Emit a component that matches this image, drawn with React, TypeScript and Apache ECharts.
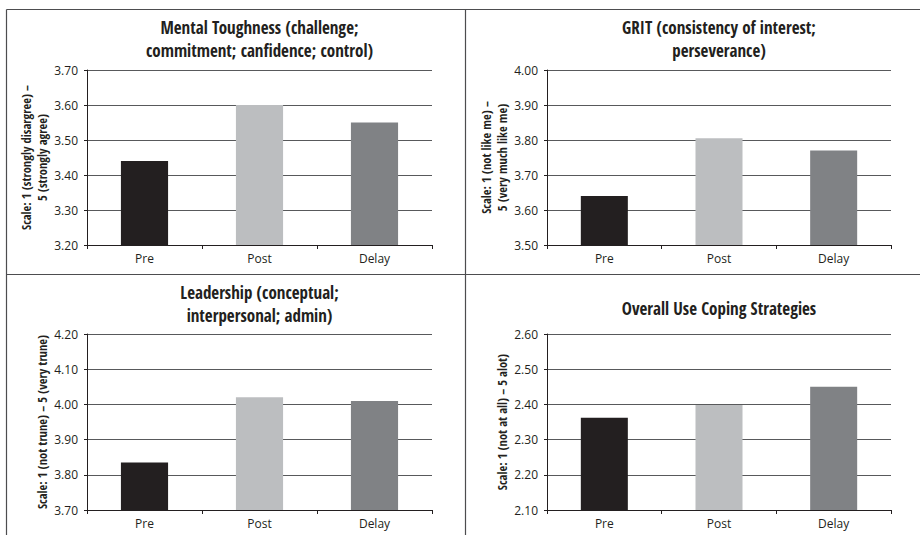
import React, { useEffect, useRef } from "react";
import * as echarts from "echarts";

const categories = ["Pre", "Post", "Delay"];
const barColors = ["#231f20", "#bcbec0", "#808285"];

const titles = [
  "Mental Toughness (challenge;\ncommitment; canfidence; control)",
  "GRIT (consistency of interest;\nperseverance)",
  "Leadership (conceptual;\ninterpersonal; admin)",
  "Overall Use Coping Strategies",
];
const axisNames = [
  "Scale: 1 (strongly disargree) –\n5 (strongly agree)",
  "Scale: 1 (not like me) –\n5 (very much like me)",
  "Scale: 1 (not trune) – 5 (very trune)",
  "Scale: 1 (not at all) – 5 alot)",
];
const mentalToughness = [3.44, 3.6, 3.55];
const grit = [3.64, 3.805, 3.77];
const leadership = [3.835, 4.02, 4.01];
const coping = [2.362, 2.398, 2.45];
const seriesValues = [mentalToughness, grit, leadership, coping];
const yMins = [3.2, 3.5, 3.7, 2.1];
const yMaxs = [3.7, 4.0, 4.2, 2.6];
const yInterval = 0.1;

const FONT = "'Open Sans Condensed', 'Roboto Condensed', sans-serif";
const FONT_REG = "'Open Sans', 'Roboto Condensed', sans-serif";

export default function App() {
  const ref = useRef<HTMLDivElement>(null);
  useEffect(() => {
    if (!ref.current) return;
    const chart = echarts.init(ref.current, null, { renderer: "svg" });
    const grids = [
      { left: 87, top: 70, width: 345, height: 175, outerBoundsMode: "none" },
      { left: 547, top: 70, width: 344, height: 175, outerBoundsMode: "none" },
      { left: 87, top: 334, width: 345, height: 176, outerBoundsMode: "none" },
      { left: 547, top: 334, width: 344, height: 176, outerBoundsMode: "none" },
    ];
    const titleY = [[27, 50], [27, 50], [292, 315], [308]];
    const border = { stroke: "#4d4d4f", lineWidth: 1.2 };
    const graphic: any[] = [
      { type: "line", shape: { x1: 6.5, y1: 9.5, x2: 920, y2: 9.5 }, style: border },
      { type: "line", shape: { x1: 6.5, y1: 9.5, x2: 6.5, y2: 535 }, style: border },
      { type: "line", shape: { x1: 465.5, y1: 9.5, x2: 465.5, y2: 535 }, style: border },
      { type: "line", shape: { x1: 6.5, y1: 274.5, x2: 920, y2: 274.5 }, style: border },
    ];
    titles.forEach((t, i) => {
      const lines = t.split("\n");
      const cx = grids[i].left + grids[i].width / 2;
      lines.forEach((ln, j) => {
        graphic.push({
          type: "text",
          x: cx,
          y: titleY[i][j],
          style: {
            text: ln,
            fill: "#231f20",
            font: `bold 17px ${FONT}`,
            textAlign: "center",
            textVerticalAlign: "middle",
          },
        });
      });
    });
    chart.setOption({
      animation: false,
      grid: grids,
      graphic,
      xAxis: grids.map((_, i) => ({
        type: "category",
        gridIndex: i,
        data: categories,
        axisLine: { show: true, lineStyle: { color: "#231f20", width: 1 } },
        axisTick: { show: true, length: 4, lineStyle: { color: "#231f20" } },
        axisLabel: {
          color: "#231f20",
          fontSize: 12,
          fontStyle: "condensed",
          fontWeight: "normal",
          fontFamily: FONT_REG,
          margin: 7,
        },
        splitLine: { show: false },
      })),
      yAxis: grids.map((_, i) => ({
        type: "value",
        gridIndex: i,
        min: yMins[i],
        max: yMaxs[i],
        interval: yInterval,
        name: axisNames[i],
        nameLocation: "middle",
        nameRotate: 90,
        nameGap: 37,
        nameMoveOverlap: false,
        nameTextStyle: { color: "#231f20", fontSize: 12.5, fontWeight: "bold", fontFamily: FONT, lineHeight: 16 },
        axisLine: { show: true, lineStyle: { color: "#231f20", width: 1 } },
        axisTick: { show: true, length: 3, lineStyle: { color: "#231f20" } },
        axisLabel: {
          color: "#231f20",
          fontSize: 12,
          fontStyle: "condensed",
          fontWeight: "normal",
          fontFamily: FONT_REG,
          margin: 9,
          formatter: (v: number) => v.toFixed(2),
        },
        splitLine: { show: true, lineStyle: { color: "#58595b", width: 1 } },
      })),
      series: seriesValues.map((vals, i) => ({
        type: "bar",
        xAxisIndex: i,
        yAxisIndex: i,
        barWidth: "41%",
        data: vals.map((v, k) => ({ value: v, itemStyle: { color: barColors[k] } })),
      })),
    });
    return () => chart.dispose();
  }, []);
  return (
    <div
      ref={ref}
      style={{ position: "absolute", left: 0, top: 0, width: 920, height: 535, background: "#ffffff" }}
    />
  );
}
